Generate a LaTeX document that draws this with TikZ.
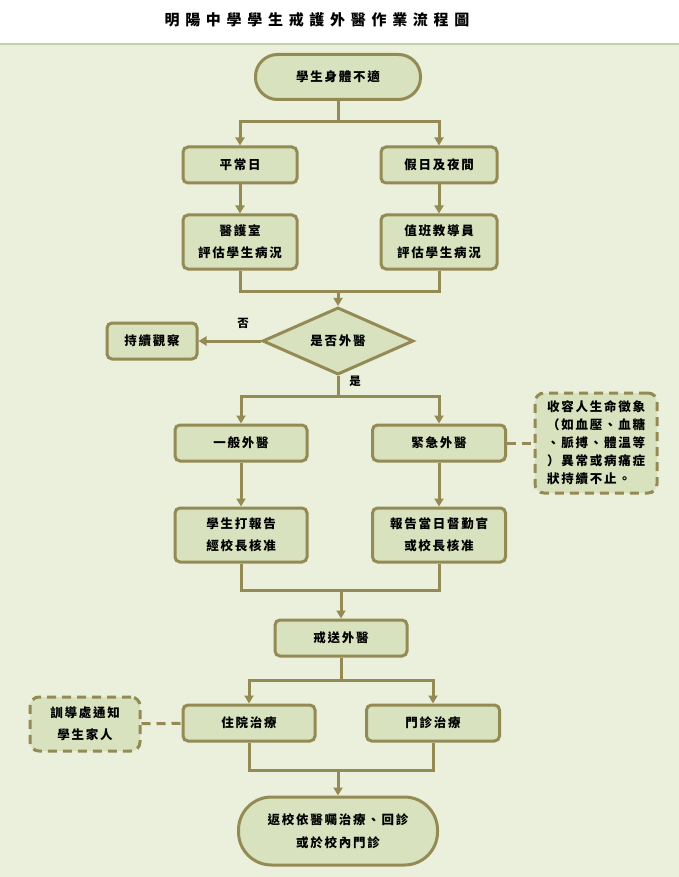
\documentclass[tikz,border=0pt]{standalone}
\usepackage{fontspec}
\usetikzlibrary{arrows.meta,shapes.geometric}
\newfontfamily\tcfont[LetterSpace=14]{Noto Sans CJK TC}
\newfontfamily\titlefont[LetterSpace=38]{Noto Sans CJK TC}
\definecolor{lineolive}{HTML}{948A54}
\definecolor{boxfill}{HTML}{D8E2BE}
\definecolor{pagebg}{HTML}{EAF0DC}
\definecolor{headline}{HTML}{C3D2A6}

\begin{document}
\begin{tikzpicture}[x=1pt,y=-1pt,
    box/.style={draw=lineolive, fill=boxfill, line width=3pt, rounded corners=5pt,
        minimum width=132pt, minimum height=36pt, align=center,
        font=\tcfont\bfseries\fontsize{12.5}{22}\selectfont},
    tallbox/.style={box, minimum height=54pt},
    stadium/.style={box, rounded corners=22pt, minimum width=165pt, minimum height=45pt},
    notebox/.style={box, dashed, dash pattern=on 9pt off 6pt, rounded corners=9pt},
    decision/.style={diamond, draw=lineolive, fill=boxfill, line width=3pt,
        minimum width=151pt, minimum height=57pt, inner sep=0pt,
        font=\tcfont\bfseries\fontsize{12.5}{22}\selectfont},
    conn/.style={draw=lineolive, line width=3pt},
    arr/.style={conn, -{Triangle[width=9pt,length=8pt]}},
    dashconn/.style={conn, dash pattern=on 9pt off 6pt},
    tag/.style={font=\tcfont\bfseries\fontsize{11.5}{14}\selectfont}]
    % page and header
    \useasboundingbox (0,0) rectangle (679,877);
    \fill[white] (0,0) rectangle (679,44);
    \fill[pagebg] (0,44) rectangle (679,877);
    \draw[headline, line width=1.5pt] (0,44) -- (679,44);
    \node[font=\titlefont\bfseries\fontsize{15}{16}\selectfont] (title) at (317,20) {明陽中學學生戒護外醫作業流程圖};

    % nodes
    \node[stadium] (start) at (338,77) {學生身體不適};
    \node[box, minimum width=114pt] (weekday) at (240,165) {平常日};
    \node[box, minimum width=116pt] (holiday) at (439,165) {假日及夜間};
    \node[tallbox, minimum width=114pt] (nurse) at (240,242) {醫護室\\評估學生病況};
    \node[tallbox, minimum width=116pt] (duty) at (439,242) {值班教導員\\評估學生病況};
    \node[decision] (decide) at (338,341) {是否外醫};
    \node[box, minimum width=90pt] (watch) at (152,341) {持續觀察};
    \node[box] (normal) at (241,443) {一般外醫};
    \node[box, minimum width=133pt] (urgent) at (439,443) {緊急外醫};
    \node[notebox, align=left, minimum width=122pt, minimum height=100pt, inner sep=2pt,
        font=\tcfont\bfseries\fontsize{12.5}{18}\selectfont] (note) at (596,443)
        {收容人生命徵象\\（如血壓、血糖\\、脈搏、體溫等\\）異常或病痛症\\狀持續不止。};
    \node[tallbox] (approve) at (241,535) {學生打報告\\經校長核准};
    \node[tallbox, minimum width=133pt] (report) at (439,535) {報告當日督勤官\\或校長核准};
    \node[box] (escort) at (341,638) {戒送外醫};
    \node[box] (inpatient) at (249,723) {住院治療};
    \node[box, minimum width=133pt] (outpatient) at (433,723) {門診治療};
    \node[notebox, minimum width=110pt, minimum height=54pt] (family) at (85,724) {訓導處通知\\學生家人};
    \node[stadium, rounded corners=33pt, minimum width=199pt, minimum height=68pt,
        font=\tcfont\bfseries\fontsize{12.5}{23}\selectfont] (finish) at (338,831)
        {返校依醫囑治療、回診\\或於校內門診};

    % split and join points
    \coordinate (splitA) at (338,122);
    \coordinate (joinA) at (338,291);
    \coordinate (splitB) at (338,396);
    \coordinate (joinB) at (341,590);
    \coordinate (splitC) at (341,680);
    \coordinate (joinC) at (338,770);

    % connectors
    \draw[conn] (start) -- (splitA);
    \draw[arr] (splitA) -| (weekday);
    \draw[arr] (splitA) -| (holiday);
    \draw[arr] (weekday) -- (nurse);
    \draw[arr] (holiday) -- (duty);
    \draw[conn] (nurse) |- (joinA) -| (duty);
    \draw[arr] (joinA) -- (decide);
    \draw[arr] (decide) -- (watch);
    \node[tag] (no) at (243,323) {否};
    \draw[conn] (decide) -- (splitB);
    \node[tag] (yes) at (355,381) {是};
    \draw[arr] (splitB) -| (normal);
    \draw[arr] (splitB) -| (urgent);
    \draw[dashconn] (urgent) -- (note);
    \draw[arr] (normal) -- (approve);
    \draw[arr] (urgent) -- (report);
    \draw[conn] (approve) |- (joinB) -| (report);
    \draw[arr] (joinB) -- (escort);
    \draw[conn] (escort) -- (splitC);
    \draw[arr] (splitC) -| (inpatient);
    \draw[arr] (splitC) -| (outpatient);
    \draw[dashconn] (family) -- (inpatient);
    \draw[conn] (inpatient) |- (joinC) -| (outpatient);
    \draw[arr] (joinC) -- (finish);
\end{tikzpicture}
\end{document}
